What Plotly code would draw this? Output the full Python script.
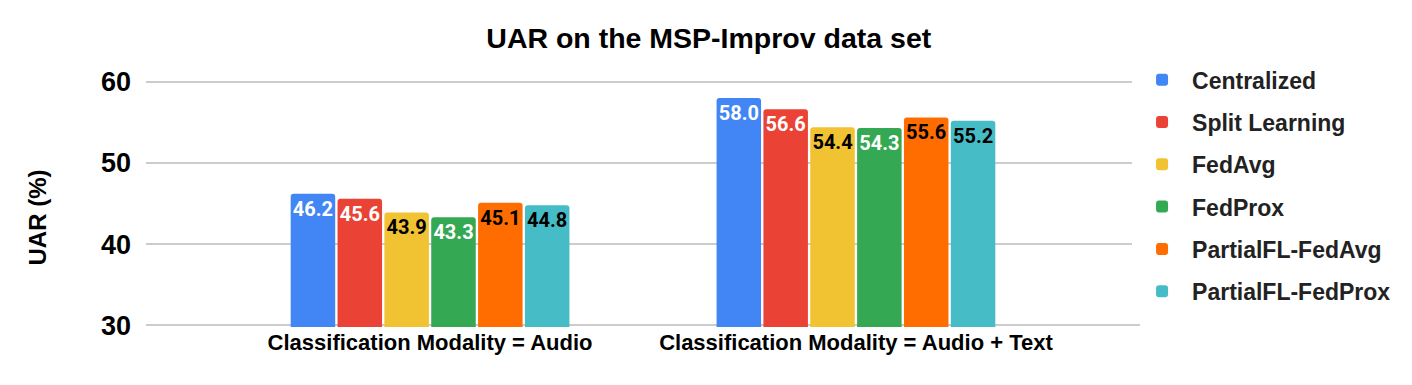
import plotly.graph_objects as go

categories = ["Classification Modality = Audio", "Classification Modality = Audio + Text"]
series_names = ["Centralized", "Split Learning", "FedAvg", "FedProx", "PartialFL-FedAvg", "PartialFL-FedProx"]
centralized = [46.2, 58.0]
split_learning = [45.6, 56.6]
fedavg = [43.9, 54.4]
fedprox = [43.3, 54.3]
partialfl_fedavg = [45.1, 55.6]
partialfl_fedprox = [44.8, 55.2]
series_values = [centralized, split_learning, fedavg, fedprox, partialfl_fedavg, partialfl_fedprox]
y_ticks = [30, 40, 50, 60]

colors = ["#4285F4", "#EA4335", "#F1C232", "#34A853", "#FF6D01", "#46BDC6"]
text_colors = ["white", "white", "black", "white", "black", "black"]

fig = go.Figure()
for i, (name, vals) in enumerate(zip(series_names, series_values)):
    fig.add_trace(go.Bar(
        x=categories, y=vals, name=name,
        marker=dict(color=colors[i], cornerradius=3, line=dict(width=0)),
        text=[f"{v:.1f}" for v in vals],
        textposition="inside", insidetextanchor="end",
        textfont=dict(family="Roboto", size=20, color=text_colors[i], weight="bold"),
        textangle=0,
        legendgroup=name,
    ))

fig.add_annotation(text="<b>UAR (%)</b>", textangle=-90, xref="paper", yref="paper",
                   x=-0.1087, y=0.443, xanchor="center", yanchor="middle", showarrow=False,
                   font=dict(family="Liberation Sans, Arial", size=24, color="black"))

fig.update_layout(
    width=1396, height=369,
    paper_bgcolor="white", plot_bgcolor="white",
    title=dict(text="<b>UAR on the MSP-Improv data set</b>", x=0.502, xanchor="center",
               xref="container", y=0.918, yanchor="middle",
               font=dict(family="Liberation Sans, Arial", size=28.5, color="black")),
    margin=dict(l=138, r=264, t=72, b=50, autoexpand=False),
    barmode="group", bargap=0.34, bargroupgap=0.05,
    uniformtext=dict(minsize=20, mode="show"),
    legend=dict(x=0.992, xanchor="left", y=1.088, yanchor="top", maxheight=400,
                font=dict(family="Liberation Sans, Arial", size=23, color="#222222", weight="bold"),
                traceorder="grouped", tracegroupgap=9.4, itemwidth=50),
    xaxis=dict(tickfont=dict(family="Liberation Sans, Arial", size=22, color="black", weight="bold"),
               range=[-0.667, 1.667],
               showgrid=False, ticks="", showline=False),
    yaxis=dict(range=[29.8, 60.2], tickvals=y_ticks, showgrid=True, gridcolor="#cccccc", gridwidth=1.5,
               zeroline=False, ticks="", ticklabelstandoff=14,
               tickfont=dict(family="Liberation Sans, Arial", size=27, color="black", weight="bold")),
)

fig.write_html("out.html")
